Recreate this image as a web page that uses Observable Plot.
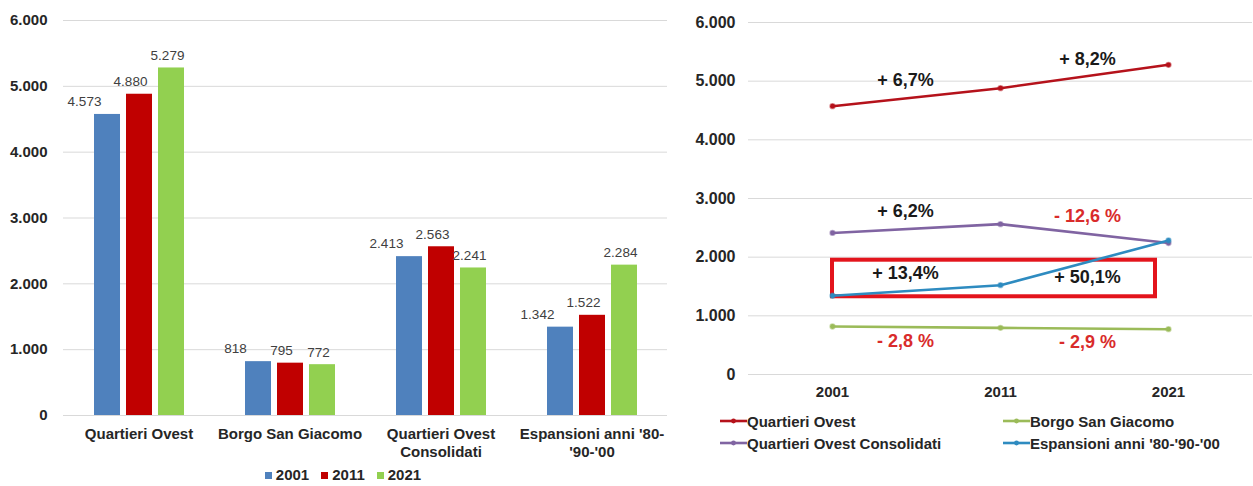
<!DOCTYPE html>
<html>
<head>
<meta charset="utf-8">
<script src="https://cdn.jsdelivr.net/npm/d3@7"></script>
<script src="https://cdn.jsdelivr.net/npm/@observablehq/plot@0.6"></script>
<style>
  body { margin: 0; background: #fff; font-family: "Liberation Sans", Arial, sans-serif; }
  #wrap { position: relative; width: 1253px; height: 486px; overflow: hidden; background: #fff; }
  #left { position: absolute; left: 0; top: 0; }
  #right { position: absolute; left: 680px; top: 0; }
  #legLeft { position: absolute; left: 0; top: 466px; width: 686px; text-align: center;
             font: bold 15px "Liberation Sans", Arial, sans-serif; color: #262626; white-space: nowrap; }
  #legLeft .it { display: inline-block; margin: 0 6px; }
  #legLeft .sw { display: inline-block; width: 7px; height: 7px; margin-right: 4px; vertical-align: 1px; }
  .legR { position: absolute; font: bold 15px "Liberation Sans", Arial, sans-serif; color: #262626;
          white-space: nowrap; display: flex; align-items: center; height: 18px; }
  .legR svg { display: block; }
</style>
</head>
<body>
<div id="wrap">
  <div id="left"></div>
  <div id="legLeft"></div>
  <div id="right"></div>
</div>
<script>
// ---- data ----
const categories = ["Quartieri Ovest", "Borgo San Giacomo", "Quartieri Ovest Consolidati", "Espansioni anni '80-'90-'00"];
const categoryLabels = ["Quartieri Ovest", "Borgo San Giacomo", "Quartieri Ovest\nConsolidati", "Espansioni anni '80-\n'90-'00"];
const years = [2001, 2011, 2021];
const values2001 = [4573, 818, 2413, 1342];
const values2011 = [4880, 795, 2563, 1522];
const values2021 = [5279, 772, 2241, 2284];
const yTicks = [0, 1000, 2000, 3000, 4000, 5000, 6000];
const yearColors = ["#4f81bd", "#c00000", "#92d050"];
const lineColors = ["#b5121b", "#9bbb59", "#8064a2", "#2e8bc0"];

// ---- helpers ----
const FONT = "'Liberation Sans', Arial, sans-serif";
const fmt = d => d3.format(",")(d).replace(/,/g, ".");
const byYear = [values2001, values2011, values2021];

// ---- left: grouped bars ----
const rows = categories.flatMap((c, i) => years.map((y, j) => ({category: c, year: String(y), value: byYear[j][i]})));
const labelDx = {"2001": -23, "2011": -9, "2021": -4};

const leftPlot = Plot.plot({
  width: 680, height: 464,
  marginLeft: 62, marginRight: 13, marginTop: 20, marginBottom: 49,
  style: {fontFamily: FONT, background: "transparent", color: "#262626"},
  fx: {domain: categories, padding: 0, label: null},
  x: {domain: years.map(String), paddingInner: 0.2, paddingOuter: 0.905, axis: null},
  y: {domain: [0, 6000], label: null},
  color: {domain: years.map(String), range: yearColors},
  marks: [
    Plot.ruleY(yTicks, {stroke: "#d9d9d9", strokeWidth: 1}),
    Plot.axisY({ticks: yTicks, tickFormat: fmt, tickSize: 0, tickPadding: 16, fontSize: 15, fontWeight: "bold", label: null}),
    Plot.axisFx({anchor: "bottom", tickSize: 0, tickPadding: 11, fontSize: 15, fontWeight: "bold", lineHeight: 1.2,
                 tickFormat: d => categoryLabels[categories.indexOf(d)], label: null}),
    Plot.barY(rows, {fx: "category", x: "year", y: "value", fill: "year"}),
    ...years.map(y => Plot.text(rows.filter(d => d.year === String(y)), {
      fx: "category", x: "year", y: "value", text: d => fmt(d.value),
      dy: -12.5, dx: labelDx[String(y)], fontSize: 13.5, fill: "#404040"
    }))
  ]
});
document.getElementById("left").appendChild(leftPlot);

// left legend
const legLeft = document.getElementById("legLeft");
years.forEach((y, j) => {
  const it = document.createElement("span");
  it.className = "it";
  it.innerHTML = `<span class="sw" style="background:${yearColors[j]}"></span>${y}`;
  legLeft.appendChild(it);
});

// ---- right: lines ----
const lineRows = categories.flatMap((c, i) => years.map((y, j) => ({series: c, year: y, value: byYear[j][i]})));
const drawOrder = [0, 2, 1, 3];
const labelsBelow = [[false, false], [true, true], [false, false], [false, true]];

const annots = [];
categories.forEach((c, i) => {
  const v = byYear.map(a => a[i]);
  for (let k = 0; k < 2; k++) {
    const pct = (v[k + 1] - v[k]) / v[k] * 100;
    const s = Math.abs(pct).toFixed(1).replace(".", ",");
    annots.push({
      series: c, seg: k, below: labelsBelow[i][k], neg: pct < 0,
      x: (years[k] + years[k + 1]) / 2, y: (v[k] + v[k + 1]) / 2,
      label: pct >= 0 ? `+ ${s}%` : `- ${s} %`
    });
  }
});

const annotMarks = [];
for (const below of [false, true]) for (const seg of [0, 1]) for (const neg of [false, true]) {
  const sub = annots.filter(d => d.below === below && d.seg === seg && d.neg === neg);
  if (!sub.length) continue;
  annotMarks.push(Plot.text(sub, {
    x: "x", y: "y", text: "label",
    dy: below ? 14 : -17, dx: seg === 0 ? -11 : 3,
    fontSize: 18, fontWeight: "bold", fill: neg ? "#d92b2b" : "#1a1a1a"
  }));
}

const esp = 3;
const highlight = [{x1: years[0], x2: years[2], y1: values2001[esp], y2: values2011[esp]}];

const rightPlot = Plot.plot({
  width: 573, height: 410,
  marginLeft: 68, marginRight: 1, marginTop: 22, marginBottom: 36,
  style: {fontFamily: FONT, background: "transparent", color: "#262626"},
  x: {domain: [1996, 2026], label: null},
  y: {domain: [0, 6000], label: null},
  marks: [
    Plot.ruleY(yTicks, {stroke: "#d9d9d9", strokeWidth: 1}),
    Plot.axisY({ticks: yTicks, tickFormat: fmt, tickSize: 0, tickPadding: 13, fontSize: 16, fontWeight: "bold", label: null}),
    Plot.axisX({ticks: years, tickFormat: d => String(d), tickSize: 0, tickPadding: 12, fontSize: 15, fontWeight: "bold", label: null}),
    Plot.rect(highlight, {x1: "x1", x2: "x2", y1: "y1", y2: "y2", fill: "none", stroke: "#e3141c", strokeWidth: 4,
                          insetTop: -25, insetBottom: -1, insetRight: 13}),
    ...drawOrder.map(i => Plot.line(lineRows.filter(d => d.series === categories[i]),
      {x: "year", y: "value", stroke: lineColors[i], strokeWidth: 2.6})),
    ...drawOrder.map(i => Plot.dot(lineRows.filter(d => d.series === categories[i]),
      {x: "year", y: "value", r: 2.4, fill: lineColors[i], stroke: lineColors[i], strokeOpacity: 0.5})),
    ...annotMarks
  ]
});
document.getElementById("right").appendChild(rightPlot);

// right legend
const wrap = document.getElementById("wrap");
const legPos = [[720, 412], [1003, 412], [720, 434], [1003, 434]];
[0, 1, 2, 3].forEach(i => {
  const d = document.createElement("div");
  d.className = "legR";
  d.style.left = legPos[i][0] + "px";
  d.style.top = legPos[i][1] + "px";
  d.innerHTML = `<svg width="27" height="10"><line x1="0" y1="5" x2="27" y2="5" stroke="${lineColors[i]}" stroke-width="2.6"/>` +
                `<circle cx="13.5" cy="5" r="2.4" fill="${lineColors[i]}"/></svg><span>${categories[i]}</span>`;
  wrap.appendChild(d);
});
</script>
</body>
</html>
